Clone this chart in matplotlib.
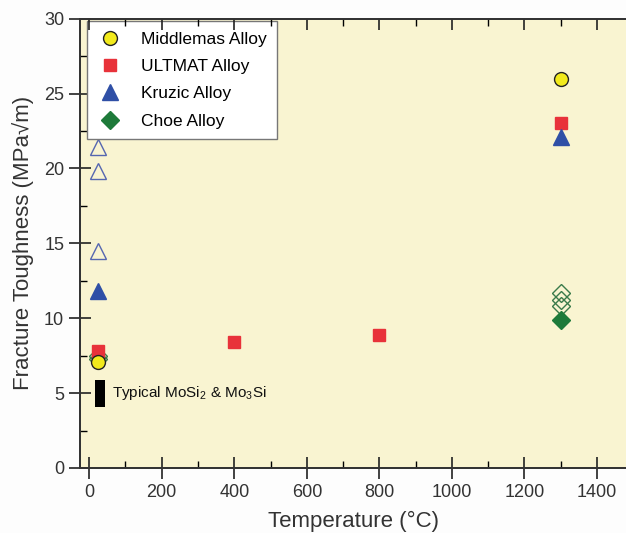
import matplotlib
matplotlib.use("Agg")
import matplotlib.pyplot as plt
from matplotlib.ticker import MultipleLocator

plt.rcParams["font.family"] = ["Liberation Sans", "DejaVu Sans"]
plt.rcParams["mathtext.fontset"] = "custom"
plt.rcParams["mathtext.rm"] = "Liberation Sans"

# fracture toughness (MPa sqrt(m)) against test temperature (deg C)
middlemas_t = [25, 1300]
middlemas_k = [7.1, 26.0]

ultmat_t = [25, 400, 800, 1300]
ultmat_k = [7.8, 8.4, 8.9, 23.0]

kruzic_t = [25, 1300]
kruzic_k = [11.8, 22.1]
kruzic_open_t = [25, 25, 25]
kruzic_open_k = [21.4, 19.8, 14.5]

choe_t = [1300]
choe_k = [9.9]
choe_open_t = [25, 25, 1300, 1300, 1300]
choe_open_k = [7.5, 7.3, 11.7, 11.2, 10.8]

# typical monolithic silicide range
mosi_t = 30
mosi_low = 4.05
mosi_high = 5.9

fig = plt.figure(figsize=(6.26, 5.33), dpi=100)
fig.patch.set_facecolor("#fdfdfd")
ax = fig.add_axes([0.128, 0.122, 0.872, 0.843])
ax.set_facecolor("#f9f4d1")

ax.bar(mosi_t, mosi_high - mosi_low, bottom=mosi_low, width=28,
       color="black", zorder=2)
ax.text(62, (mosi_low + mosi_high) / 2, "Typical MoSi$_2$ & Mo$_3$Si",
        fontsize=11, va="center", ha="left", color="#111111")

ax.plot(kruzic_open_t, kruzic_open_k, "^", ls="none", ms=11,
        mfc="none", mec="#5566b0", mew=1.0, zorder=3)
ax.plot(choe_open_t, choe_open_k, "D", ls="none", ms=9,
        mfc="none", mec="#3a7a4a", mew=1.0, zorder=3)

ax.plot(ultmat_t, ultmat_k, "s", ls="none", ms=9, color="#e8323a",
        mec="#e8323a", label="ULTMAT Alloy", zorder=4)
ax.plot(kruzic_t, kruzic_k, "^", ls="none", ms=11, color="#2f4fa6",
        mec="#2f4fa6", label="Kruzic Alloy", zorder=4)
ax.plot(choe_t, choe_k, "D", ls="none", ms=9, color="#1e7a3a",
        mec="#1e7a3a", label="Choe Alloy", zorder=4)
ax.plot(middlemas_t, middlemas_k, "o", ls="none", ms=10, color="#f2ea1c",
        mec="#222222", mew=1.0, label="Middlemas Alloy", zorder=5)

handles, labels = ax.get_legend_handles_labels()
order = [3, 0, 1, 2]
leg = ax.legend([handles[i] for i in order], [labels[i] for i in order],
                loc="upper left", bbox_to_anchor=(0.007, 1.002),
                fontsize=12.5, frameon=True, fancybox=False,
                edgecolor="#777777", facecolor="white", framealpha=1,
                handlelength=1.4, handletextpad=1.1, borderpad=0.6,
                labelspacing=0.7, borderaxespad=0.2)
leg.get_frame().set_linewidth(1.0)

ax.set_xlim(-25, 1480)
ax.set_ylim(0, 30)
ax.xaxis.set_major_locator(MultipleLocator(200))
ax.xaxis.set_minor_locator(MultipleLocator(100))
ax.yaxis.set_major_locator(MultipleLocator(5))
ax.yaxis.set_minor_locator(MultipleLocator(2.5))
ax.tick_params(which="major", direction="inout", length=16, width=1.2,
               labelsize=13, colors="#222222", right=False)
ax.tick_params(which="minor", direction="in", length=5, width=1.0,
               right=False)
ax.tick_params(axis="both", which="major", labelcolor="#333333")

# ticks along the top edge point inward only
top = ax.twiny()
top.set_xlim(ax.get_xlim())
top.xaxis.set_major_locator(MultipleLocator(200))
top.xaxis.set_minor_locator(MultipleLocator(100))
top.tick_params(which="major", direction="in", length=8, width=1.2,
                colors="#222222", labeltop=False)
top.tick_params(which="minor", direction="in", length=5, width=1.0)

for a in (ax, top):
    for side in ["left", "bottom", "top"]:
        a.spines[side].set_linewidth(1.3)
        a.spines[side].set_color("#333333")
    a.spines["right"].set_visible(False)

ax.set_xlabel("Temperature (°C)", fontsize=16, color="#333333", labelpad=7)
ax.set_ylabel("Fracture Toughness (MPa\u221am)", fontsize=16, color="#333333",
              labelpad=7)

fig.savefig("out.png", dpi=100, facecolor=fig.get_facecolor())
